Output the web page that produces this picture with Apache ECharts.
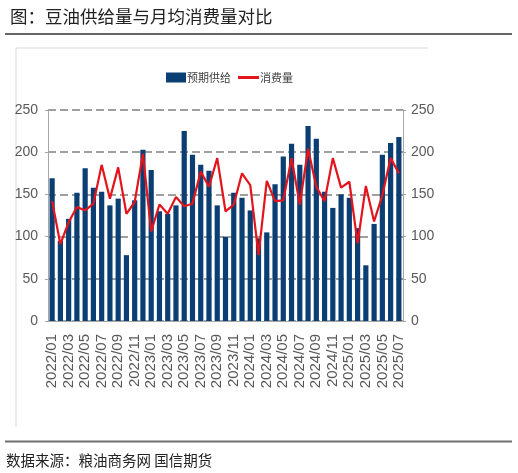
<!DOCTYPE html>
<html>
<head>
<meta charset="utf-8">
<style>
  html, body { margin: 0; padding: 0; background: #fff; }
  #chart { width: 518px; height: 473px; }
</style>
<script src="https://cdn.jsdelivr.net/npm/echarts@6/dist/echarts.min.js"></script>
</head>
<body>
<div id="chart"></div>
<script>
// monthly categories
const months = [
  '2022/01', '2022/02', '2022/03', '2022/04', '2022/05', '2022/06', '2022/07', '2022/08', '2022/09', '2022/10', '2022/11', '2022/12',
  '2023/01', '2023/02', '2023/03', '2023/04', '2023/05', '2023/06', '2023/07', '2023/08', '2023/09', '2023/10', '2023/11', '2023/12',
  '2024/01', '2024/02', '2024/03', '2024/04', '2024/05', '2024/06', '2024/07', '2024/08', '2024/09', '2024/10', '2024/11', '2024/12',
  '2025/01', '2025/02', '2025/03', '2025/04', '2025/05', '2025/06', '2025/07'
];
// 预期供给 (bars)
const supply = [
  169, 95, 121, 152, 181, 158, 153, 137, 145, 78, 143, 203,
  179, 130, 127, 137, 225, 197, 185, 178, 137, 100, 152, 146,
  131, 98, 105, 162, 195, 210, 185, 231, 216, 153, 134, 150,
  146, 110, 66, 115, 197, 211, 218
];
// 消费量 (line)
const consumption = [
  142, 91, 117, 135, 131, 139, 185, 145, 182, 127, 141, 198,
  106, 138, 127, 147, 136, 139, 177, 159, 193, 130, 138, 175,
  161, 78, 166, 142, 143, 193, 138, 204, 159, 142, 193, 158,
  165, 92, 160, 118, 149, 193, 175
];
const yTicks = { min: 0, max: 250, interval: 50 };

const chart = echarts.init(document.getElementById('chart'));
const labelFont = 'Liberation Sans, Arial, sans-serif';
const cjkFont = 'Noto Sans CJK SC, sans-serif';
const legendText = { fontFamily: cjkFont, fontSize: 11, color: '#404040', padding: [0, 0, 0, -4] };

chart.setOption({
  animation: false,
  title: {
    text: '图：豆油供给量与月均消费量对比',
    left: 5,
    top: 3,
    textStyle: { fontFamily: cjkFont, fontSize: 17.5, fontWeight: 'normal', color: '#222' }
  },
  graphic: [
    { type: 'line', shape: { x1: 5, y1: 34, x2: 512, y2: 34 }, style: { stroke: '#333', lineWidth: 1.5 } },
    { type: 'polyline', shape: { points: [[16, 427], [16, 48], [428, 48]] }, style: { stroke: '#d9d9d9', lineWidth: 1, fill: null } },
    { type: 'line', shape: { x1: 5, y1: 441.5, x2: 512, y2: 441.5 }, style: { stroke: '#707070', lineWidth: 2 } },
    {
      type: 'text', left: 6, top: 453,
      style: { text: '数据来源：粮油商务网 国信期货', font: '14.5px ' + cjkFont, fill: '#222' }
    }
  ],
  // two legends so the line key can be a thin bar like the original
  legend: [
    {
      left: 161, top: 67, itemWidth: 20, itemHeight: 10,
      textStyle: legendText,
      data: [{ name: '预期供给', icon: 'rect' }]
    },
    {
      left: 233, top: 67, itemWidth: 21, itemHeight: 3,
      textStyle: legendText,
      data: [{ name: '消费量', icon: 'rect' }]
    }
  ],
  grid: { left: 48, right: 115, top: 110, bottom: 152 },
  xAxis: {
    type: 'category',
    data: months,
    boundaryGap: true,
    axisLine: { lineStyle: { color: '#a6a6a6', width: 1 } },
    axisTick: { interval: 1, length: 4, lineStyle: { color: '#a6a6a6' } },
    axisLabel: {
      interval: 1,
      rotate: 90,
      margin: 13,
      fontFamily: labelFont,
      fontSize: 15,
      color: '#595959'
    }
  },
  yAxis: [
    {
      type: 'value',
      min: yTicks.min, max: yTicks.max, interval: yTicks.interval,
      axisLine: { show: true, lineStyle: { color: '#a6a6a6' } },
      axisTick: { show: true, length: 3, lineStyle: { color: '#a6a6a6' } },
      axisLabel: { fontFamily: labelFont, fontSize: 14, color: '#595959', margin: 10 },
      splitLine: { lineStyle: { type: [8, 4], color: '#808080', width: 1.5 } }
    },
    {
      type: 'value',
      min: yTicks.min, max: yTicks.max, interval: yTicks.interval,
      axisLine: { show: true, lineStyle: { color: '#a6a6a6' } },
      axisTick: { show: true, length: 3, lineStyle: { color: '#a6a6a6' } },
      axisLabel: { fontFamily: labelFont, fontSize: 14, color: '#595959', margin: 8 },
      splitLine: { show: false }
    }
  ],
  series: [
    {
      name: '预期供给',
      type: 'bar',
      data: supply,
      barWidth: '63%',
      itemStyle: { color: '#0b3f73' }
    },
    {
      name: '消费量',
      type: 'line',
      yAxisIndex: 1,
      data: consumption,
      showSymbol: false,
      symbol: 'none',
      lineStyle: { color: '#e3141c', width: 2.2 },
      itemStyle: { color: '#e3141c' }
    }
  ]
});
</script>
</body>
</html>
